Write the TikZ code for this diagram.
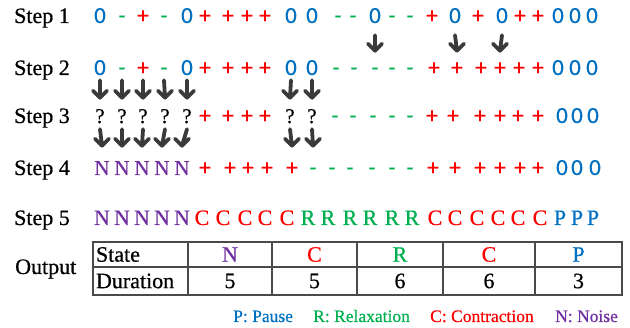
\documentclass[tikz,border=0pt]{standalone}
\usepackage{fontspec}
\setmainfont{Liberation Serif}[FakeBold=0.6]
\newfontfamily\calib{Carlito}[FakeBold=0.5]
\usetikzlibrary{calc}
\definecolor{pblue}{HTML}{0070C0}
\definecolor{rgreen}{HTML}{00B050}
\definecolor{cred}{HTML}{FF0000}
\definecolor{npurple}{HTML}{7030A0}
\definecolor{arrowgray}{HTML}{3A3A3A}
\definecolor{gridgray}{HTML}{4A4A4A}
\begin{document}
\begin{tikzpicture}[x=1pt,y=-1pt,
  lbl/.style={inner sep=0pt, font=\fontsize{22}{22}\selectfont},
  sym/.style={anchor=base, inner sep=0pt, text height=14pt, text depth=4pt},
  sansfont/.style={font=\calib\fontsize{23}{23}\selectfont},
  seriffont/.style={font=\fontsize{21}{21}\selectfont},
  zs/.style={sym, sansfont, text=pblue, node contents=0},
  ms/.style={sym, sansfont, text=rgreen, node contents=-},
  ps/.style={sym, sansfont, text=cred, node contents=+},
  qs/.style={sym, seriffont, text=black, node contents=?},
  Ns/.style={sym, seriffont, text=npurple, node contents=N},
  Cs/.style={sym, seriffont, text=cred, node contents=C},
  Rs/.style={sym, seriffont, text=rgreen, node contents=R},
  Ps/.style={sym, seriffont, text=pblue, node contents=P},
  big/.style={font=\fontsize{22}{22}\selectfont},
  bigarrow/.style={draw=arrowgray, line width=3.8pt, line cap=round, line join=round,
    to path={-- (\tikztotarget) -- ++(-7pt,7pt) (\tikztotarget) -- ++(7pt,7pt)}},
  cell/.style={draw=gridgray, line width=1.1pt, inner sep=0pt, font=\fontsize{22}{22}\selectfont},
  legend/.style={anchor=base west, inner sep=0pt, font=\fontsize{17.5}{17.5}\selectfont}
]
\useasboundingbox (0,0) rectangle (630,328);

% row labels
\node[lbl, anchor=base west] (s1) at (14,23) {Step 1};
\node[lbl, anchor=base west] (s2) at (14,75) {Step 2};
\node[lbl, anchor=base west] (s3) at (14,123) {Step 3};
\node[lbl, anchor=base west] (s4) at (14,175) {Step 4};
\node[lbl, anchor=base west] (s5) at (14,225) {Step 5};
\node[lbl, anchor=base west] (out) at (15,274) {Output};

% symbol sequences
\foreach \x/\t [count=\i from 0] in {100/z,122/m,143/p,164/m,187/z,205/p,228/p,247/p,265/p,291/z,312/z,338/m,353/m,375/z,392/m,410/m,432/p,455/z,478/p,502/z,520/p,538/p,558/z,575/z,592/z}
  \node (r1-\i) at (\x,23) [\t s];
\foreach \x/\t [count=\i from 0] in {100/z,122/m,143/p,164/m,187/z,205/p,228/p,247/p,265/p,291/z,312/z,336/m,354/m,375/m,392/m,410/m,434/p,457/p,481/p,500/p,519/p,538/p,558/z,575/z,592/z}
  \node (r2-\i) at (\x,75) [\t s];
\foreach \x/\t [count=\i from 0] in {100/q,122/q,143/q,165/q,187/q,205/p,228/p,247/p,265/p,290/q,312/q,335/m,353/m,373/m,392/m,410/m,432/p,453/p,480/p,500/p,518/p,538/p,562/z,577/z,593/z}
  \node (r3-\i) at (\x,123) [\t s];
\foreach \x/\t [count=\i from 0] in {102/N,122/N,142/N,162/N,182/N,205/p,230/p,248/p,267/p,292/p,313/m,332/m,350/m,372/m,392/m,410/m,433/p,455/p,480/p,500/p,520/p,538/p,562/z,577/z,595/z}
  \node (r4-\i) at (\x,175) [\t s];
\foreach \x/\t [count=\i from 0] in {102/N,122/N,142/N,162/N,182/N,202/C,223/C,245/C,265/C,287/C,308/R,328/R,350/R,370/R,392/R,412/R,435/C,455/C,477/C,498/C,518/C,540/C,560/P,577/P,593/P}
  \node (r5-\i) at (\x,225) [\t s, big];

% arrows marking the symbols that change
\foreach \i in {13,17,19}
  \draw[bigarrow] ([yshift=-8pt]r1-\i.south) to ([yshift=10pt]r2-\i.north);
\foreach \i in {0,1,2,3,4,9,10}
  \draw[bigarrow] ([yshift=-1pt]r2-\i.south) to ([yshift=11pt]r3-\i.north);
\foreach \i in {0,1,2,3,4,9,10}
  \draw[bigarrow] ([yshift=-2pt]r3-\i.south) to ([yshift=15pt]r4-\i.north);

% output table
\node[cell, minimum height=25pt, text width=89pt, inner xsep=3pt, align=left] (t-st) at (140.5,254.5) {State};
\node[cell, minimum height=28pt, text width=89pt, inner xsep=3pt, align=left] (t-du) at (140.5,281) {Duration};
\foreach \cx/\w/\s/\c/\d [count=\k] in {230/84/N/npurple/5, 314.5/85/C/cred/5, 400/86/R/rgreen/6, 489/92/C/cred/6, 578.5/87/P/pblue/3} {
  \node[cell, minimum width=\w, minimum height=25pt, text=\c] (t-s\k) at (\cx,254.5) {\s};
  \node[cell, minimum width=\w, minimum height=28pt] (t-d\k) at (\cx,281) {\d};
}

% legend
\node[legend, text=pblue] (lp) at (233,322) {P: Pause};
\node[legend, text=rgreen] (lr) at (313,322) {R: Relaxation};
\node[legend, text=cred] (lc) at (430,322) {C: Contraction};
\node[legend, text=npurple] (ln) at (555,322) {N: Noise};
\end{tikzpicture}
\end{document}
